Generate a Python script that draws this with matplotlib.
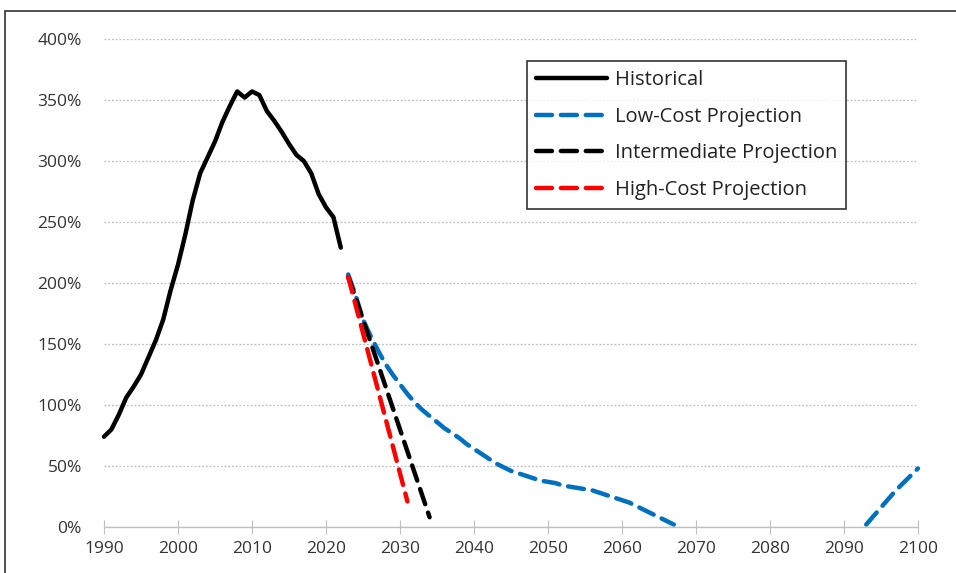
import numpy as np
import matplotlib.pyplot as plt
from matplotlib.patches import Rectangle

plt.rcParams['font.family'] = ['Open Sans', 'DejaVu Sans']

# historical ratio, 1990-2022
hist_years = list(range(1990, 2023))
hist_vals = [74, 80, 92, 106, 115, 125, 139, 153, 170, 194, 215, 240, 268, 290, 303, 316, 332, 345, 357, 352,
             357, 354, 341, 333, 324, 314, 305, 300, 290, 273, 262, 254, 229]

# low-cost projection (gap where ratio is zero)
low_years = list(range(2023, 2068)) + list(range(2093, 2101))
low_vals = [207, 190, 170, 157, 145, 134, 125, 117, 109, 102, 96, 91, 86, 81, 77, 73, 68, 64, 60, 56,
            52, 49, 46, 44, 42, 40, 38, 37, 36, 34, 33, 32, 31, 30, 28, 26, 24, 22, 20, 17,
            14, 11, 8, 5, 2] + [2, 9, 16, 23, 30, 36, 42, 48]

int_years = list(range(2023, 2035))
int_vals = [205, 188, 170, 152, 134, 116, 98, 80, 62, 44, 26, 8]

high_years = list(range(2023, 2032))
high_vals = [205, 182, 159, 136, 113, 90, 67, 44, 21]

fig = plt.figure(figsize=(9.56, 5.73), dpi=100)
ax = fig.add_axes([104 / 956, 1 - 527 / 573, (918 - 104) / 956, (527 - 39) / 573])

# outer frame
fig.patches.append(Rectangle((5 / 956, -0.05), 1.0, 1 - 11 / 573 + 0.05, transform=fig.transFigure,
                             fill=False, edgecolor='#333333', linewidth=1.2))

dash = (0, (3.6, 2.0))
ax.plot(hist_years, hist_vals, color='black', lw=3.2, solid_capstyle='round', label='Historical')

# low-cost drawn in two pieces so the gap stays empty
lx = np.array(low_years)
lv = np.array(low_vals, dtype=float)
seg1 = lx <= 2067
ax.plot(lx[seg1], lv[seg1], color='#0070C0', lw=3.2, ls=dash, dash_capstyle='round',
        label='Low-Cost Projection')
ax.plot(lx[~seg1], lv[~seg1], color='#0070C0', lw=3.2, ls=dash, dash_capstyle='round')
ax.plot(int_years, int_vals, color='black', lw=3.2, ls=dash, dash_capstyle='round',
        label='Intermediate Projection')
ax.plot(high_years, high_vals, color='#FF0000', lw=3.2, ls=dash, dash_capstyle='round',
        label='High-Cost Projection')

ax.set_xlim(1990, 2100)
ax.set_ylim(0, 400)
ax.set_xticks(range(1990, 2101, 10))
ax.set_yticks(range(0, 401, 50))
ax.set_yticklabels([f'{v}%' for v in range(0, 401, 50)])
ax.yaxis.grid(True, color='#BFBFBF', ls=(0, (1.5, 1.5)), lw=0.9)
ax.set_axisbelow(True)
for s in ['top', 'right', 'left']:
    ax.spines[s].set_visible(False)
ax.spines['bottom'].set_color('#BFBFBF')
ax.spines['bottom'].set_linewidth(1.0)
ax.tick_params(axis='y', length=0, pad=16, labelsize=12.5, labelcolor='#333333')
ax.tick_params(axis='x', direction='inout', length=10, color='#BFBFBF', labelsize=12.5,
               labelcolor='#333333', pad=5)
for ln in ax.lines:
    ln.set_clip_on(False)

leg = ax.legend(loc='upper left', bbox_to_anchor=(527 / 956, 1 - 61 / 573), bbox_transform=fig.transFigure,
                fontsize=14.5, frameon=True, fancybox=False, edgecolor='black', handlelength=3.5,
                handletextpad=0.4, labelspacing=0.82, borderpad=0.45, borderaxespad=0)
leg.get_frame().set_linewidth(1.2)
for t in leg.get_texts():
    t.set_color('#222222')

fig.savefig('out.png', dpi=100)
